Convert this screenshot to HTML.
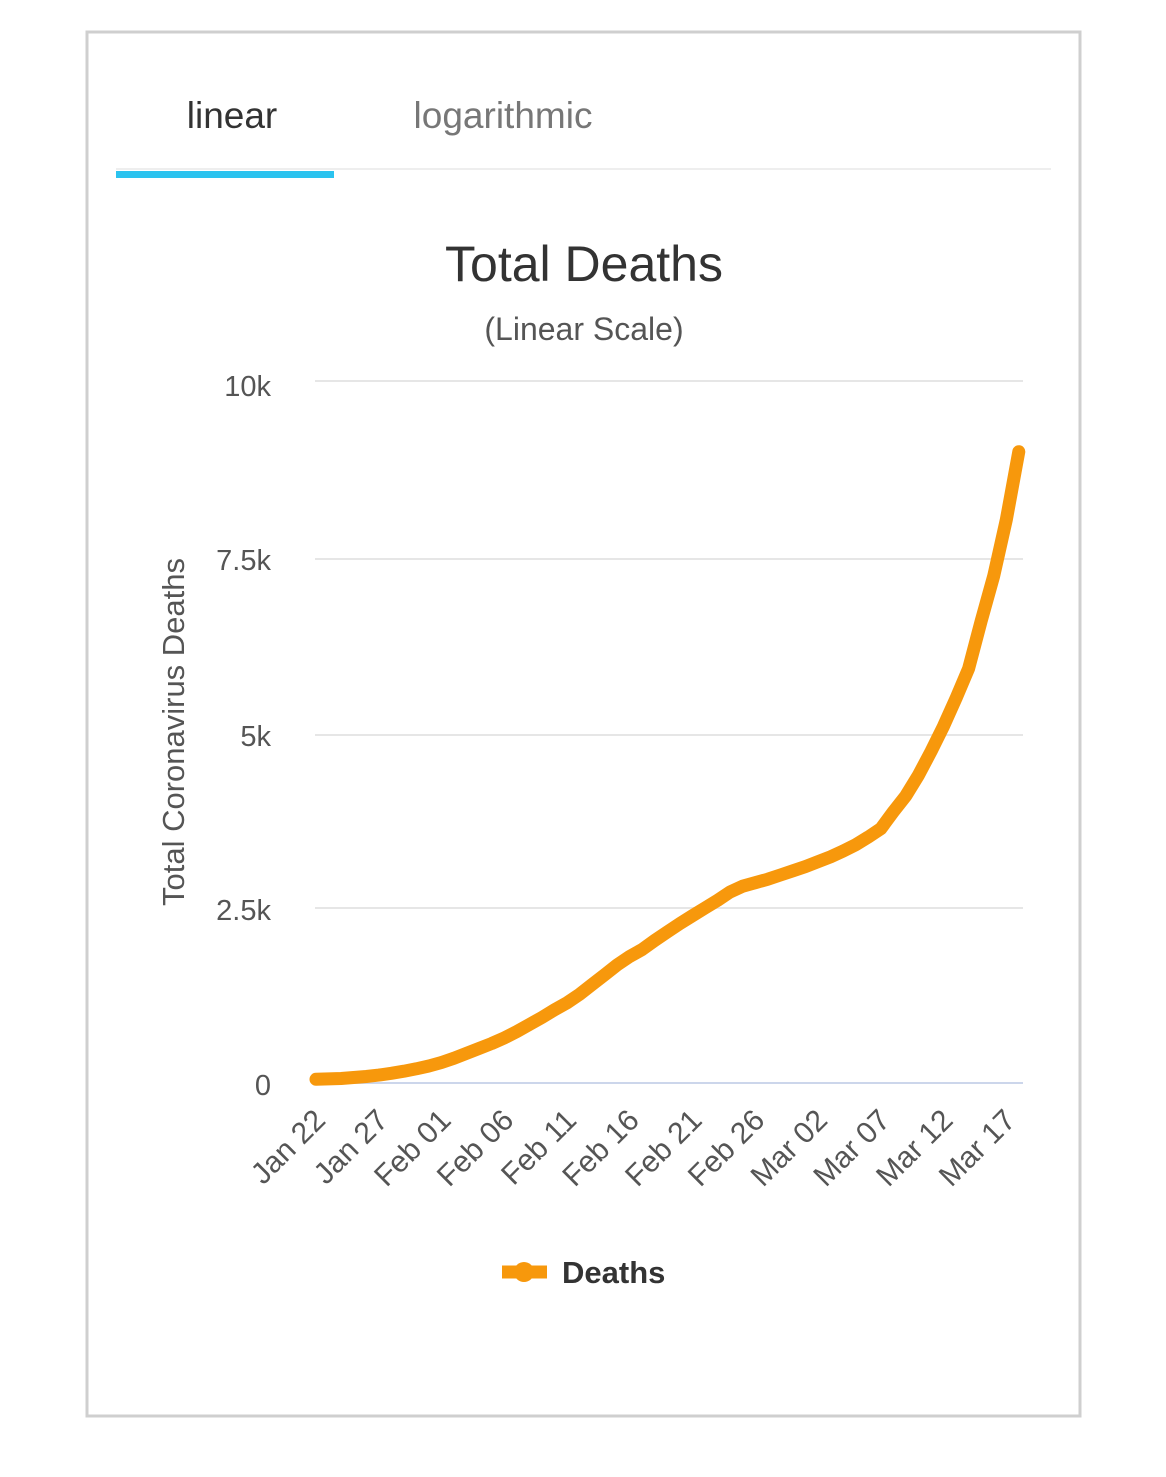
<!DOCTYPE html>
<html><head><style>
body{margin:0;background:#fff;width:1166px;height:1472px;overflow:hidden;font-family:"Liberation Sans",sans-serif;}
</style></head><body>
<svg width="1166" height="1472" xmlns="http://www.w3.org/2000/svg" font-family="Liberation Sans, sans-serif">
<rect x="87" y="32" width="993" height="1384" fill="#fff" stroke="#cfcfcf" stroke-width="3"/>
<text x="232" y="128" font-size="37" fill="#333" text-anchor="middle">linear</text>
<text x="503" y="128" font-size="37" fill="#777" text-anchor="middle">logarithmic</text>
<line x1="116" y1="169" x2="1051" y2="169" stroke="#eee" stroke-width="2"/>
<rect x="116" y="171" width="218" height="7" fill="#2bc3ef"/>
<text x="584" y="281" font-size="50" fill="#333" text-anchor="middle">Total Deaths</text>
<text x="584" y="340" font-size="32" fill="#555" text-anchor="middle">(Linear Scale)</text>
<g stroke="#e6e6e6" stroke-width="2">
<line x1="315" y1="381" x2="1023" y2="381"/>
<line x1="315" y1="559" x2="1023" y2="559"/>
<line x1="315" y1="735" x2="1023" y2="735"/>
<line x1="315" y1="908" x2="1023" y2="908"/>
</g>
<line x1="315" y1="1083" x2="1023" y2="1083" stroke="#ccd6eb" stroke-width="2"/>
<g font-size="29" fill="#555" text-anchor="end">
<text x="271" y="396">10k</text>
<text x="271" y="570">7.5k</text>
<text x="271" y="746">5k</text>
<text x="271" y="920">2.5k</text>
<text x="271" y="1095">0</text>
</g>
<text transform="translate(184,732) rotate(-90)" font-size="31" fill="#555" text-anchor="middle">Total Coronavirus Deaths</text>
<g id="xl" font-size="30" fill="#555" text-anchor="end"></g>
<path id="ln" fill="none" stroke="#f7980c" stroke-width="13" stroke-linejoin="round" stroke-linecap="round"/>
<line x1="502" y1="1272" x2="547" y2="1272" stroke="#f7980c" stroke-width="13"/>
<circle cx="524" cy="1272" r="10" fill="#f7980c"/>
<text x="562" y="1283" font-size="31" font-weight="bold" fill="#333">Deaths</text>
</svg>
<script>
var d=[10,15,22,35,50,70,95,125,160,200,250,310,380,450,520,600,690,790,890,1000,1100,1220,1360,1500,1640,1760,1860,1990,2110,2230,2340,2450,2560,2680,2760,2810,2860,2920,2980,3040,3110,3180,3260,3350,3460,3580,3820,4050,4340,4680,5040,5440,5860,6540,7180,7980,8950];
var dx=12.55,p="";
for(var i=0;i<d.length;i++){p+=(i?"L":"M")+(316+i*dx).toFixed(1)+","+(1080-d[i]*0.0702).toFixed(1);}
document.getElementById("ln").setAttribute("d",p);
var L=["Jan 22","Jan 27","Feb 01","Feb 06","Feb 11","Feb 16","Feb 21","Feb 26","Mar 02","Mar 07","Mar 12","Mar 17"],g=document.getElementById("xl"),s="";
for(var j=0;j<L.length;j++){var x=315+j*5*dx+12,y=1122;s+='<text transform="translate('+x+','+y+') rotate(-45)">'+L[j]+'</text>';}
g.innerHTML=s;
</script>
</body></html>
